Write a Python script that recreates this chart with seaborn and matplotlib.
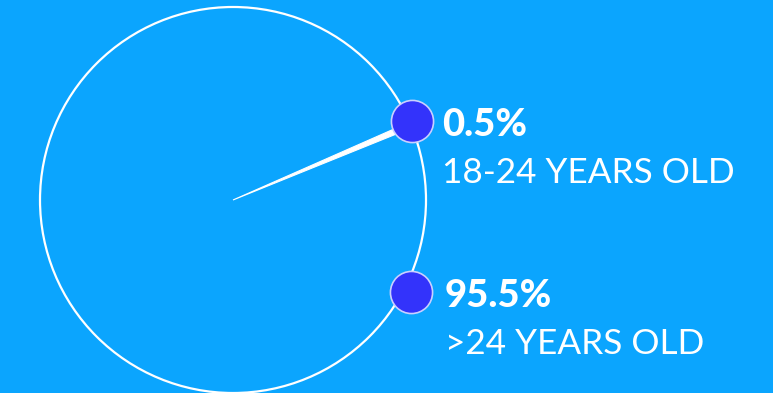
import numpy as np
import pandas as pd
import matplotlib
matplotlib.use("Agg")
import matplotlib.pyplot as plt
from matplotlib.patches import Circle, Wedge
import seaborn as sns

# Age split of the audience
groups = ["18-24 YEARS OLD", ">24 YEARS OLD"]
shares = [0.5, 95.5]
share_labels = ["0.5%", "95.5%"]

BG = "#0ba5fe"
DOT = "#3333fb"
W, H = 773, 393

sns.set_theme(style="white", rc={"axes.facecolor": BG, "figure.facecolor": BG})
plt.rcParams["font.family"] = ["Lato", "DejaVu Sans"]

fig = plt.figure(figsize=(W / 100, H / 100), dpi=100)
ax = fig.add_axes([0, 0, 1, 1])
ax.set_xlim(0, W)
ax.set_ylim(0, H)
ax.set_aspect("equal")
ax.axis("off")

cx, cy, R = 233, 193, 193

# outer ring
ax.add_patch(Circle((cx, cy), R, fill=False, ec="white", lw=1.6, zorder=2))

# share wedge for the first group (percent -> degrees)
wedge_end = 23.8
span = shares[0] * 3.6
ax.add_patch(Wedge((cx, cy), 190, wedge_end - span, wedge_end,
                   fc="white", ec="white", lw=0.8, zorder=3))

# label anchors on the ring
anchor_deg = np.array([wedge_end, -27.4])
anchor_r = np.array([196, 200])
ang = np.deg2rad(anchor_deg)
df = pd.DataFrame({
    "group": groups,
    "share": shares,
    "x": cx + anchor_r * np.cos(ang),
    "y": cy + anchor_r * np.sin(ang),
})
sns.scatterplot(data=df, x="x", y="y", ax=ax, s=920, color=DOT,
                edgecolor="#c9d0ff", linewidth=1.2, zorder=5, legend=False)

text_x = [442, 445]
for (_, row), lab, tx in zip(df.iterrows(), share_labels, text_x):
    ax.text(tx, row["y"] - 1, lab, color="white", fontsize=27.5,
            fontweight=900, ha="left", va="center_baseline")
    ax.text(tx, row["y"] - 49, row["group"], color="white", fontsize=25.3,
            ha="left", va="center_baseline")

fig.savefig("out.png", dpi=100, facecolor=BG)
